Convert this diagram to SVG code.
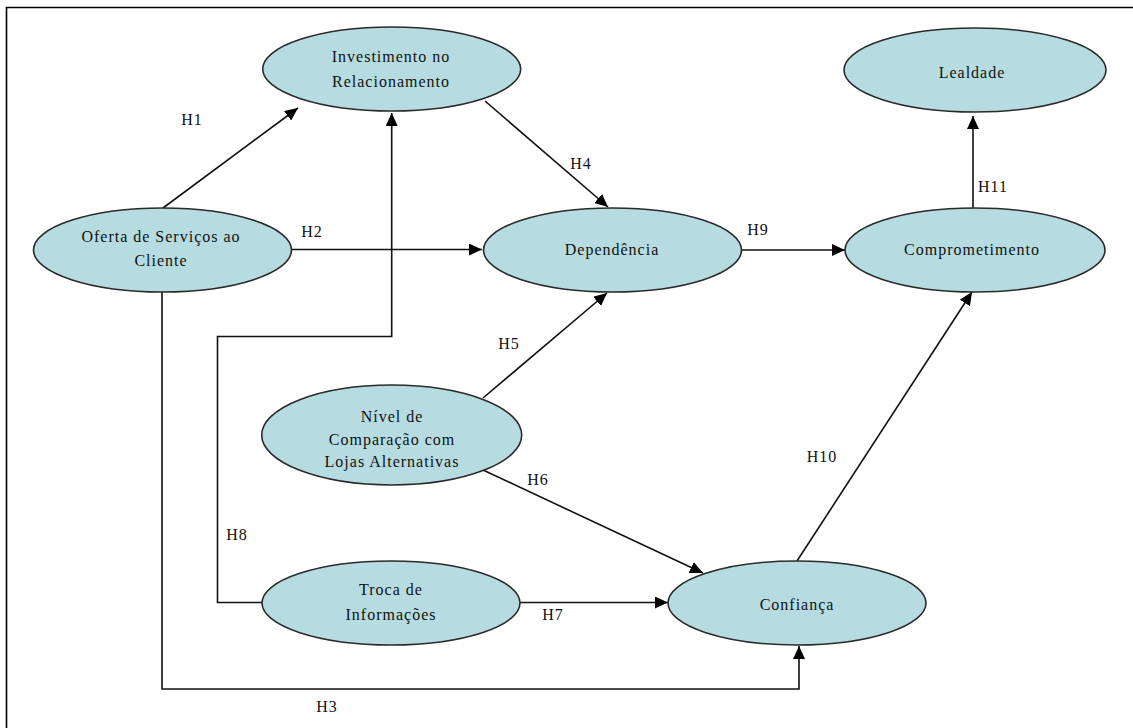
<svg xmlns="http://www.w3.org/2000/svg" width="1133" height="728" viewBox="0 0 1133 728">
<style>
.node ellipse{fill:#b6dce1;stroke:#2a2a2a;stroke-width:1.6}
text{font-family:"Liberation Serif","Times New Roman",serif;font-size:16px;fill:#111;text-anchor:middle;letter-spacing:1px}
.conn line,.conn path{fill:none;stroke:#111;stroke-width:1.6}
.arr{marker-end:url(#ah)}
.frame{stroke:#000;stroke-width:1.6;fill:none}
</style>
<defs>
<marker id="ah" markerUnits="userSpaceOnUse" markerWidth="14" markerHeight="12" viewBox="0 0 14 12" refX="13" refY="6" orient="auto">
<path d="M0,0 L13,6 L0,12 Z" fill="#000"/>
</marker>
</defs>
<rect x="0" y="0" width="1133" height="728" fill="#fff"/>
<path class="frame" d="M6.5,728 V7.5 H1133"/>

<g id="connectors" class="conn">
<line class="arr" x1="163" y1="208" x2="298" y2="108"/>
<line class="arr" x1="292" y1="249.5" x2="482" y2="249.5"/>
<path class="arr" d="M162,292 V689 H799 V646"/>
<line class="arr" x1="485" y1="101" x2="608" y2="207"/>
<line class="arr" x1="483" y1="398" x2="607" y2="293"/>
<line class="arr" x1="483" y1="470" x2="703" y2="573"/>
<line class="arr" x1="520" y1="602.5" x2="668" y2="602.5"/>
<path class="arr" d="M262,602.5 H217.5 V336.5 H391.7 V113"/>
<line class="arr" x1="741.5" y1="250" x2="845" y2="250"/>
<line class="arr" x1="797" y1="561" x2="972" y2="292"/>
<line class="arr" x1="973" y1="209" x2="973" y2="116"/>
</g>

<g id="labels">
<text x="192" y="125">H1</text>
<text x="312" y="237">H2</text>
<text x="327" y="712">H3</text>
<text x="581" y="169">H4</text>
<text x="509" y="349">H5</text>
<text x="538" y="485">H6</text>
<text x="553" y="620">H7</text>
<text x="237" y="540">H8</text>
<text x="758" y="235">H9</text>
<text x="822" y="462">H10</text>
<text x="993" y="192">H11</text>
</g>

<g id="node-investimento" class="node">
<ellipse cx="391.7" cy="69" rx="129" ry="42"/>
<text x="391" y="62">Investimento no</text>
<text x="391" y="87">Relacionamento</text>
</g>
<g id="node-oferta" class="node">
<ellipse cx="162.5" cy="250" rx="129" ry="42"/>
<text x="161" y="242">Oferta de Serviços ao</text>
<text x="161" y="266">Cliente</text>
</g>
<g id="node-dependencia" class="node">
<ellipse cx="612.5" cy="250" rx="129" ry="42"/>
<text x="612" y="255">Dependência</text>
</g>
<g id="node-lealdade" class="node">
<ellipse cx="975" cy="70" rx="131" ry="42"/>
<text x="972" y="78">Lealdade</text>
</g>
<g id="node-comprometimento" class="node">
<ellipse cx="975" cy="250" rx="130" ry="42"/>
<text x="972" y="255">Comprometimento</text>
</g>
<g id="node-nivel" class="node">
<ellipse cx="391.7" cy="435" rx="130" ry="50"/>
<text x="392" y="422">Nível de</text>
<text x="392" y="445">Comparação com</text>
<text x="392" y="467">Lojas Alternativas</text>
</g>
<g id="node-troca" class="node">
<ellipse cx="391" cy="603" rx="129" ry="42"/>
<text x="391" y="595">Troca de</text>
<text x="391" y="620">Informações</text>
</g>
<g id="node-confianca" class="node">
<ellipse cx="797" cy="603" rx="129" ry="42"/>
<text x="797" y="610">Confiança</text>
</g>
</svg>
